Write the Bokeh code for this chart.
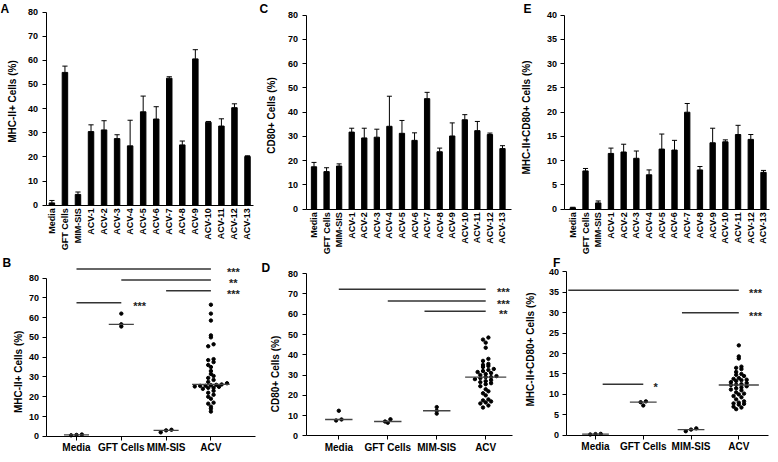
import numpy as np
from bokeh.plotting import figure
from bokeh.models import FixedTicker, Label, Range1d
from bokeh.layouts import row, column
from bokeh.core.properties import value
from bokeh.embed import file_html
from bokeh.resources import INLINE

FONT = "Liberation Sans"

# ---------------- data: bar panels (A, C, E) ----------------
bar_cats = ["Media", "GFT Cells", "MIM-SIS"] + [f"ACV-{i}" for i in range(1, 14)]
mhc_mean = [1.0, 55.0, 4.5, 30.5, 31.2, 27.6, 24.6, 38.7, 35.7, 52.6, 25.0, 60.6, 34.4, 32.8, 40.4, 20.2]
mhc_err = [1.0, 2.6, 1.0, 2.8, 3.8, 1.6, 10.6, 6.5, 5.1, 0.6, 1.6, 3.8, 0.3, 3.0, 1.6, 0.3]
cd80_mean = [17.5, 15.5, 17.8, 31.8, 29.4, 29.7, 34.2, 31.3, 28.4, 45.6, 23.7, 30.2, 36.9, 32.4, 30.8, 25.0]
cd80_err = [1.8, 1.6, 0.9, 1.6, 4.0, 3.3, 12.4, 5.3, 3.1, 2.6, 1.5, 5.4, 2.1, 3.8, 0.6, 1.2]
dbl_mean = [0.3, 7.9, 1.3, 11.5, 11.8, 10.5, 7.1, 12.4, 12.2, 20.0, 8.1, 13.7, 13.9, 15.4, 14.4, 7.6]
dbl_err = [0.1, 0.5, 0.4, 1.1, 1.6, 1.5, 1.0, 3.1, 2.0, 1.8, 0.7, 3.0, 0.4, 1.9, 1.0, 0.4]

# ---------------- data: scatter panels (B, D, F) ----------------
grp_cats = ["Media", "GFT Cells", "MIM-SIS", "ACV"]
mhc_media = [0.5, 0.7, 0.9]
mhc_gft = [62.0, 55.5, 56.6]
mhc_mim = [2.0, 3.0, 3.3]
mhc_acv = [66.5, 62.0, 58.5, 51.0, 50.0, 46.5, 45.5, 39.0, 38.5, 37.5, 36.0, 35.0, 33.0,
           31.5, 30.5, 29.5, 28.5, 27.5, 26.8, 26.2, 26.0, 25.8, 25.5, 25.5, 25.2, 25.0,
           24.5, 24.5, 24.0, 23.0, 22.0, 21.0, 20.0, 19.0, 17.0, 16.5, 15.0, 14.0, 12.5]
cd80_media = [12.4, 7.6, 8.1]
cd80_gft = [8.2, 6.5, 7.1]
cd80_mim = [11.0, 14.2, 12.4]
cd80_acv = [48.5, 47.5, 46.0, 43.5, 38.0, 37.0, 35.5, 35.0, 34.5, 34.0, 33.0, 32.5, 32.0,
            31.5, 31.0, 30.5, 30.0, 29.5, 29.0, 29.0, 28.5, 28.0, 27.5, 27.0, 26.5, 26.0,
            25.5, 24.5, 23.0, 22.0, 21.0, 20.0, 18.0, 17.5, 17.0, 16.5, 16.0, 15.0, 14.0]
dbl_media = [0.2, 0.35, 0.3]
dbl_gft = [8.3, 7.3, 8.1]
dbl_mim = [1.0, 1.7, 1.4]
dbl_acv = [22.0, 19.3, 18.8, 16.8, 16.5, 16.2, 15.5, 15.0, 14.8, 14.5, 14.0, 13.8, 13.6,
           13.5, 13.3, 13.0, 12.8, 12.5, 12.4, 12.3, 12.0, 11.7, 11.5, 11.2, 11.0, 10.5,
           10.2, 10.0, 9.6, 9.3, 8.8, 8.3, 8.0, 7.8, 7.7, 7.5, 7.0, 6.8, 6.4]

# significance bars: (from group, to group, level, label)
mhc_sig_from = ["Media", "GFT Cells", "MIM-SIS", "Media"]
mhc_sig_to = ["ACV", "ACV", "ACV", "GFT Cells"]
mhc_sig_y = [84.5, 79.0, 73.5, 67.5]
mhc_sig_lbl = ["***", "**", "***", "***"]
cd80_sig_from = ["Media", "GFT Cells", "MIM-SIS"]
cd80_sig_to = ["ACV", "ACV", "ACV"]
cd80_sig_y = [72.3, 66.5, 61.5]
cd80_sig_lbl = ["***", "***", "**"]
dbl_sig_from = ["Media", "MIM-SIS", "Media"]
dbl_sig_to = ["ACV", "ACV", "GFT Cells"]
dbl_sig_y = [35.5, 30.0, 12.5]
dbl_sig_lbl = ["***", "***", "*"]


class Geo:
    """Pixel layout of one panel: two x anchors and two y anchors (canvas px, y down)."""

    def __init__(self, w, h, px0, xv0, px1, xv1, py0, yv0, py1, yv1):
        self.w, self.h = w, h
        self.px0, self.xv0, self.py0, self.yv0 = px0, xv0, py0, yv0
        self.kx = (xv1 - xv0) / (px1 - px0)
        self.ky = (yv1 - yv0) / (py1 - py0)

    def x(self, px):
        return self.xv0 + (px - self.px0) * self.kx

    def y(self, py):
        return self.yv0 + (py - self.py0) * self.ky


def make_fig(g, axis_px, xend_px, ytop, ystep):
    p = figure(width=g.w, height=g.h, x_range=Range1d(g.x(0), g.x(g.w)),
               y_range=Range1d(g.y(g.h), g.y(0)), output_backend="svg",
               toolbar_location=None, tools="", min_border=0,
               min_border_left=0, min_border_right=0, min_border_top=0, min_border_bottom=0)
    p.outline_line_color = None
    p.xgrid.visible = False
    p.ygrid.visible = False
    for ax in (p.xaxis[0], p.yaxis[0]):
        ax.axis_line_color = "black"
        ax.axis_line_width = 1
        ax.major_tick_line_color = "black"
        ax.major_tick_in = 0
        ax.major_tick_out = 4
        ax.minor_tick_line_color = None
        ax.major_label_text_font = FONT
        ax.major_label_text_font_style = "bold"
        ax.major_label_text_font_size = "9px"
        ax.major_label_text_color = "black"
    ax0 = g.x(axis_px)
    p.yaxis.fixed_location = ax0
    p.yaxis.bounds = (0, ytop)
    p.yaxis.ticker = FixedTicker(ticks=list(np.arange(0, ytop + 0.01, ystep)))
    p.yaxis.major_label_standoff = 4
    p.xaxis.fixed_location = 0
    p.xaxis.bounds = (ax0, g.x(xend_px))
    return p


def add_text(p, g, text, px, py, size, angle=0.0, align="left", baseline="top"):
    p.add_layout(Label(x=px, y=g.h - py, x_units="screen", y_units="screen", text=text, angle=angle,
                       text_font=FONT, text_font_style="bold", text_font_size=size,
                       text_align=align, text_baseline=baseline, text_color="black"))


def bar_panel(g, axis_px, xend_px, ymax, ystep, means, errs, ylabel, ylab_px, letter, let_px):
    p = make_fig(g, axis_px, xend_px, ymax, ystep)
    xs = np.arange(len(bar_cats))
    m = np.array(means)
    e = np.array(errs)
    p.vbar(x=xs, top=m, width=0.42, fill_color="black", line_color="black")
    p.segment(x0=xs, y0=m, x1=xs, y1=m + e, line_color="black", line_width=1)
    p.segment(x0=xs - 0.2, y0=m + e, x1=xs + 0.2, y1=m + e, line_color="black", line_width=1)
    p.xaxis.ticker = FixedTicker(ticks=list(xs))
    p.xaxis.major_label_overrides = {int(i): c for i, c in zip(xs, bar_cats)}
    p.xaxis.major_label_orientation = np.pi / 2
    p.xaxis.major_tick_line_color = None
    p.xaxis.major_tick_out = 0
    p.xaxis.major_label_standoff = 3
    add_text(p, g, ylabel, ylab_px[0], ylab_px[1], "10px", np.pi / 2, "center", "middle")
    add_text(p, g, letter, let_px[0], let_px[1], "12px")
    return p


def swarm(vals, center, bin_h, dx):
    v = np.asarray(vals, float)
    xs = np.zeros(len(v))
    bins = np.floor(v / bin_h).astype(int)
    for b in np.unique(bins):
        idx = np.where(bins == b)[0]
        idx = idx[np.argsort(v[idx])]
        n = len(idx)
        xs[idx] = center + (np.arange(n) - (n - 1) / 2) * dx
    return xs


def dot_panel(g, axis_px, xend_px, ymax_tick, ystep, groups, ylabel, ylab_px,
              sig_from, sig_to, sig_y, sig_lbl, from_shift, star_off, bin_h, dx, letter, let_px):
    p = make_fig(g, axis_px, xend_px, ymax_tick, ystep)
    pos = {c: i + 1 for i, c in enumerate(grp_cats)}
    for i, vals in enumerate(groups):
        c = i + 1
        xs = swarm(vals, c, bin_h, dx)
        p.scatter(x=xs, y=vals, size=3.4, marker="circle", fill_color="black", line_color="black")
        hw = 0.42 if grp_cats[i] == "ACV" else 0.28
        med = float(np.median(vals))
        p.segment(x0=[c - hw], y0=[med], x1=[c + hw], y1=[med], line_color="#444444", line_width=1.3)
    x0 = [pos[a] + s for a, s in zip(sig_from, from_shift)]
    x1 = [pos[b] for b in sig_to]
    p.segment(x0=x0, y0=sig_y, x1=x1, y1=sig_y, line_color="#333333", line_width=1.5)
    p.text(x=[pos[b] + o for b, o in zip(sig_to, star_off)], y=sig_y, text=sig_lbl,
           text_font=value(FONT), text_font_size=value("11px"), text_font_style="bold",
           text_align="center", text_baseline="middle", y_offset=3, text_color="#222222")
    p.xaxis.ticker = FixedTicker(ticks=[1, 2, 3, 4])
    p.xaxis.major_label_overrides = {pos[c]: c for c in grp_cats}
    p.xaxis.major_label_text_font_size = "10px"
    p.xaxis.major_label_standoff = 2
    add_text(p, g, ylabel, ylab_px[0], ylab_px[1], "10px", np.pi / 2, "center", "middle")
    add_text(p, g, letter, let_px[0], let_px[1], "12px")
    return p


TOP_H, BOT_H = 254, 200

gA = Geo(257, TOP_H, 51.4, 0, 247.0, 15, 11.5, 80, 204.8, 0)
gC = Geo(256, TOP_H, 56.5, 0, 245.0, 15, 14.75, 80, 208.7, 0)
gE = Geo(257, TOP_H, 59.3, 0, 250.0, 15, 14.75, 40, 208.7, 0)
gB = Geo(257, BOT_H, 76.0, 1, 210.4, 4, 23.5, 80, 181.8, 0)
gD = Geo(256, BOT_H, 81.3, 1, 228.2, 4, 19.2, 80, 181.4, 0)
gF = Geo(257, BOT_H, 82.0, 1, 225.3, 4, 17.3, 40, 180.8, 0)

pA = bar_panel(gA, 45.5, 253, 80, 10, mhc_mean, mhc_err, "MHC-II+ Cells (%)", (12, 101), "A", (0, 1.5))
pC = bar_panel(gC, 48.6, 254, 80, 10, cd80_mean, cd80_err, "CD80+ Cells (%)", (13.9, 115), "C", (2, 1.5))
pE = bar_panel(gE, 51.4, 256, 40, 5, dbl_mean, dbl_err, "MHC-II+CD80+ Cells (%)", (13.3, 117), "E", (10, 1.5))

pB = dot_panel(gB, 46.4, 255, 80, 10, [mhc_media, mhc_gft, mhc_mim, mhc_acv], "MHC-II+ Cells (%)",
               (17.8, 117.3), mhc_sig_from, mhc_sig_to, mhc_sig_y, mhc_sig_lbl, [0, 0, 0, 0],
               [0.5, 0.5, 0.5, 0.41], 1.8, 0.12, "B", (2, 1.5))
pD = dot_panel(gD, 48.6, 255, 80, 10, [cd80_media, cd80_gft, cd80_mim, cd80_acv], "CD80+ Cells (%)",
               (17.9, 119.5), cd80_sig_from, cd80_sig_to, cd80_sig_y, cd80_sig_lbl, [0, 0, -0.25],
               [0.36, 0.36, 0.36], 1.75, 0.11, "D", (4, 6.5))
pF = dot_panel(gF, 53.4, 255, 40, 5, [dbl_media, dbl_gft, dbl_mim, dbl_acv], "MHC-II+CD80+ Cells (%)",
               (17.3, 95), dbl_sig_from, dbl_sig_to, dbl_sig_y, dbl_sig_lbl, [-0.57, -0.19, 0.15],
               [0.35, 0.35, 0.26], 0.86, 0.11, "F", (39.5, 1.5))

layout = column(row(pA, pC, pE, spacing=0), row(pB, pD, pF, spacing=0), spacing=0)
open("out.html", "w").write(file_html(layout, INLINE))
